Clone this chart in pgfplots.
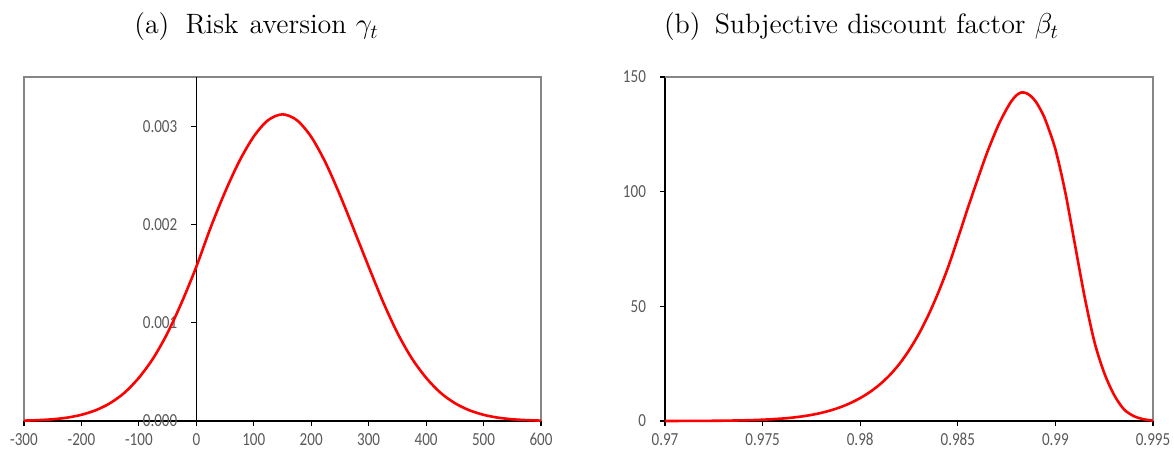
\documentclass[border=0pt]{standalone}
\usepackage{pgfplots}
\pgfplotsset{compat=1.18}
\usepackage{fontspec}
\newfontfamily\tickfont[FakeStretch=0.82]{Carlito}
\definecolor{tickgray}{RGB}{89,89,89}
\definecolor{framegray}{RGB}{134,134,134}
\definecolor{curvered}{RGB}{255,0,0}
\pgfplotstableread{
x y
-300 0.0000039
-275 0.0000088
-250 0.0000177
-225 0.0000342
-200 0.0000632
-175 0.000110
-150 0.000182
-125 0.000288
-100 0.000440
-75 0.000639
-50 0.000897
-25 0.001213
0 0.001570
25 0.001970
50 0.002330
75 0.002645
100 0.002895
125 0.003061
150 0.003120
175 0.003061
200 0.002891
225 0.002628
250 0.002299
275 0.001937
300 0.001570
325 0.001213
350 0.000897
375 0.000639
400 0.000440
425 0.000288
450 0.000182
475 0.000110
500 0.0000632
525 0.0000342
550 0.0000177
575 0.0000088
600 0.0000039
}\riskdata
\pgfplotstableread{
x y
0.9700 0.013
0.9710 0.03
0.9720 0.065
0.9730 0.14
0.9740 0.29
0.9750 0.56
0.9760 1.07
0.9765 1.46
0.9770 1.98
0.9775 2.66
0.9780 3.54
0.9785 4.66
0.9790 6.07
0.9795 7.83
0.9800 10.0
0.9805 12.65
0.9810 15.9
0.9815 19.9
0.9820 24.8
0.9825 30.8
0.9830 37.9
0.9835 46.3
0.9840 56.0
0.9845 67.0
0.9850 79.5
0.9855 92.5
0.9860 105.0
0.9865 117.0
0.9870 127.5
0.98725 132.0
0.9875 136.0
0.98775 139.5
0.9880 142.0
0.98825 143.25
0.9885 143.0
0.98875 141.6
0.9890 139.2
0.98925 135.6
0.9895 131.0
0.9900 118.5
0.9905 100.0
0.9910 77.0
0.9915 54.0
0.9920 34.5
0.9925 21.0
0.9930 11.5
0.9935 5.2
0.9940 2.2
0.9945 0.8
0.9950 0.15
}\betadata
\begin{document}
\begin{tikzpicture}
\useasboundingbox (0,0) rectangle (587pt,226pt);
\pgfplotsset{
  common/.style={
    scale only axis,
    anchor=south west,
    height=172pt,
    major tick length=2.5pt,
    tick style={black, line width=0.6pt},
    ticklabel style={font=\tickfont\fontsize{9.2}{10}\selectfont, text=tickgray},
    xticklabel style={yshift=-2pt, inner sep=1.5pt},
    /pgf/number format/assume math mode=true,
    clip=false,
  },
  fixlines/.style={
    axis line style={-, line width=0.8pt, black},
    every inner x axis line/.append style={-},
    every outer x axis line/.append style={-},
    every inner y axis line/.append style={-},
    every outer y axis line/.append style={-},
    tick align=outside,
  }
}
% left panel: x = 0 lies 300/900 of 258.5pt = 86.1667pt from the left edge
\begin{axis}[common,
  at={(12pt,15.5pt)}, width=258.5pt,
  xmin=-300, xmax=600, ymin=0, ymax=0.0035,
  axis x line=bottom, axis y line=left, fixlines,
  y axis line style={xshift=86.1667pt},
  ytick style={xshift=86.1667pt},
  yticklabel style={xshift=82.6667pt},
  xtick={-300,-200,-100,0,100,200,300,400,500,600},
  xticklabels={-300,-200,-100,0,100,200,300,400,500,600},
  ytick={0,0.001,0.002,0.003},
  yticklabels={0.000,0.001,0.002,0.003},
  scaled y ticks=false,
]
\draw[framegray, line width=0.6pt] (rel axis cs:0,0) -- (rel axis cs:0,1) -- (rel axis cs:1,1) -- (rel axis cs:1,0);
\draw[black, line width=0.8pt] (axis cs:0,0) -- (axis cs:0,0.0035);
\addplot[curvered, line width=1.3pt, smooth, no marks] table {\riskdata};
\end{axis}
\begin{axis}[common,
  at={(332.5pt,15.5pt)}, width=244pt,
  xmin=0.97, xmax=0.995, ymin=0, ymax=150,
  axis x line=bottom, axis y line=left, fixlines,
  yticklabel style={xshift=-3.5pt},
  xtick={0.97,0.975,0.98,0.985,0.99,0.995},
  xticklabels={0.97,0.975,0.98,0.985,0.99,0.995},
  ytick={0,50,100,150},
  yticklabels={0,50,100,150},
  scaled x ticks=false,
]
\draw[framegray, line width=0.6pt] (rel axis cs:0,1) -- (rel axis cs:1,1) -- (rel axis cs:1,0);
\addplot[curvered, line width=1.3pt, smooth, no marks] table {\betadata};
\end{axis}
\node at (128.25pt,212.5pt) {\fontsize{14}{17}\selectfont (a)\hspace{3.5pt} Risk\hspace{1pt} aversion $\gamma_t$};
\node at (430.75pt,212.5pt) {\fontsize{14}{17}\selectfont (b)\hspace{2.5pt} Subjective discount factor $\beta_t$};
\end{tikzpicture}
\end{document}
